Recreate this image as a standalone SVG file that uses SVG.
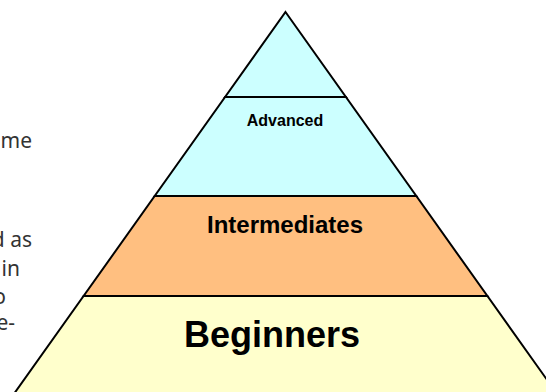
<svg xmlns="http://www.w3.org/2000/svg" width="546" height="392" viewBox="0 0 546 392">
<style>
.band{stroke:#000;stroke-width:2;stroke-linejoin:miter}
.cyan{fill:#CCFFFF}
.orange{fill:#FFBF80}
.yellow{fill:#FFFFCC}
.lbl{font-family:"Liberation Sans",Arial,sans-serif;font-weight:bold;fill:#000;text-anchor:middle}
.side{font-family:"Noto Sans","Open Sans",sans-serif;font-size:21px;fill:#333333;text-anchor:end}
</style>
<rect width="546" height="392" fill="#fff"/>
<g id="side-text">
<text class="side" x="32" y="147.5">me</text>
<text class="side" x="32" y="247">d as</text>
<text class="side" x="20" y="276">in</text>
<text class="side" x="6" y="304">o</text>
<text class="side" x="15" y="330">e-</text>
</g>
<g id="beginners">
<polygon class="band yellow" points="83.6,296 487.4,296 561.4,400 9.6,400"/>
<text class="lbl" x="272" y="347" font-size="36">Beginners</text>
</g>
<g id="intermediates">
<polygon class="band orange" points="154.7,196 416.3,196 487.4,296 83.6,296"/>
<text class="lbl" x="285" y="232.5" font-size="24">Intermediates</text>
</g>
<g id="advanced">
<polygon class="band cyan" points="225.1,97 345.9,97 416.3,196 154.7,196"/>
<text class="lbl" x="285" y="125.5" font-size="16">Advanced</text>
</g>
<g id="apex">
<polygon class="band cyan" points="285.5,12 345.9,97 225.1,97"/>
</g>
<g id="connectors"></g>
</svg>
